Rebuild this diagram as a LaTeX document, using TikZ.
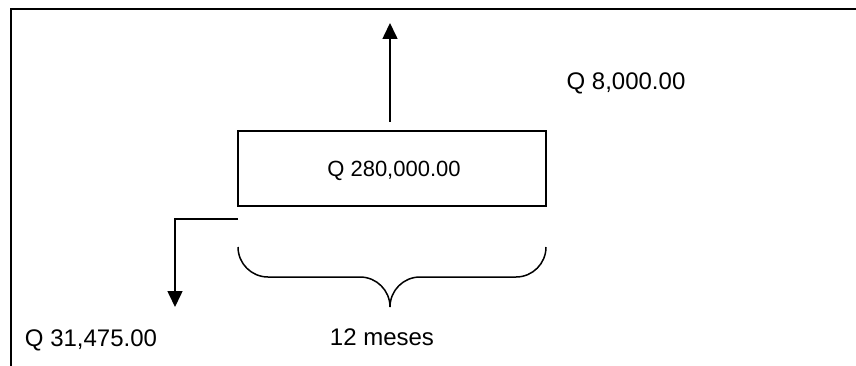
\documentclass[tikz,border=0pt]{standalone}
\usepackage{fontspec}
\setmainfont{Liberation Sans}
\usetikzlibrary{arrows.meta}
\begin{document}
\begin{tikzpicture}[x=1pt,y=-1pt,
  frame/.style={line width=2.5pt},
  thin/.style={line width=1.5pt},
  arr/.style={line width=1.6pt,-{Triangle[length=16pt,width=15pt]}},
  lbl/.style={inner sep=0pt,anchor=base,font=\fontsize{24}{28}\selectfont},
  boxlbl/.style={inner sep=0pt,anchor=base,font=\fontsize{22}{26}\selectfont}]
\useasboundingbox (0,0) rectangle (856,366);
% outer frame
\draw[frame] (11,366) -- (11,9) -- (856,9);
% box
\node[draw,thin,minimum width=308pt,minimum height=75pt,inner sep=0pt] (box) at (392,168.5) {};
\node[boxlbl] (amount) at (394,177) {Q 280,000.00};
% up arrow
\coordinate (upstart) at (390,122);
\coordinate (uptip) at (390,23);
\draw[arr] (upstart) -- (uptip);
\node[lbl] (income) at (626,90) {Q 8,000.00};
% down arrow
\coordinate (dstart) at (238,219);
\coordinate (dcorner) at (175,219);
\coordinate (dtip) at (175,307);
\draw[arr] (dstart) -- (dcorner) -- (dtip);
\node[lbl] (outflow) at (91,346) {Q 31,475.00};
% brace
\coordinate (bl) at (238,247);
\coordinate (br) at (546,247);
\draw[thin] (bl) arc[start angle=180,end angle=270,radius=30pt]
  -- (360,277) arc[start angle=90,end angle=0,radius=30pt]
  coordinate (cusp)
  arc[start angle=180,end angle=90,radius=30pt]
  -- (516,277) arc[start angle=270,end angle=360,radius=30pt];
\node[lbl] (months) at (382,345) {12 meses};
\end{tikzpicture}
\end{document}
